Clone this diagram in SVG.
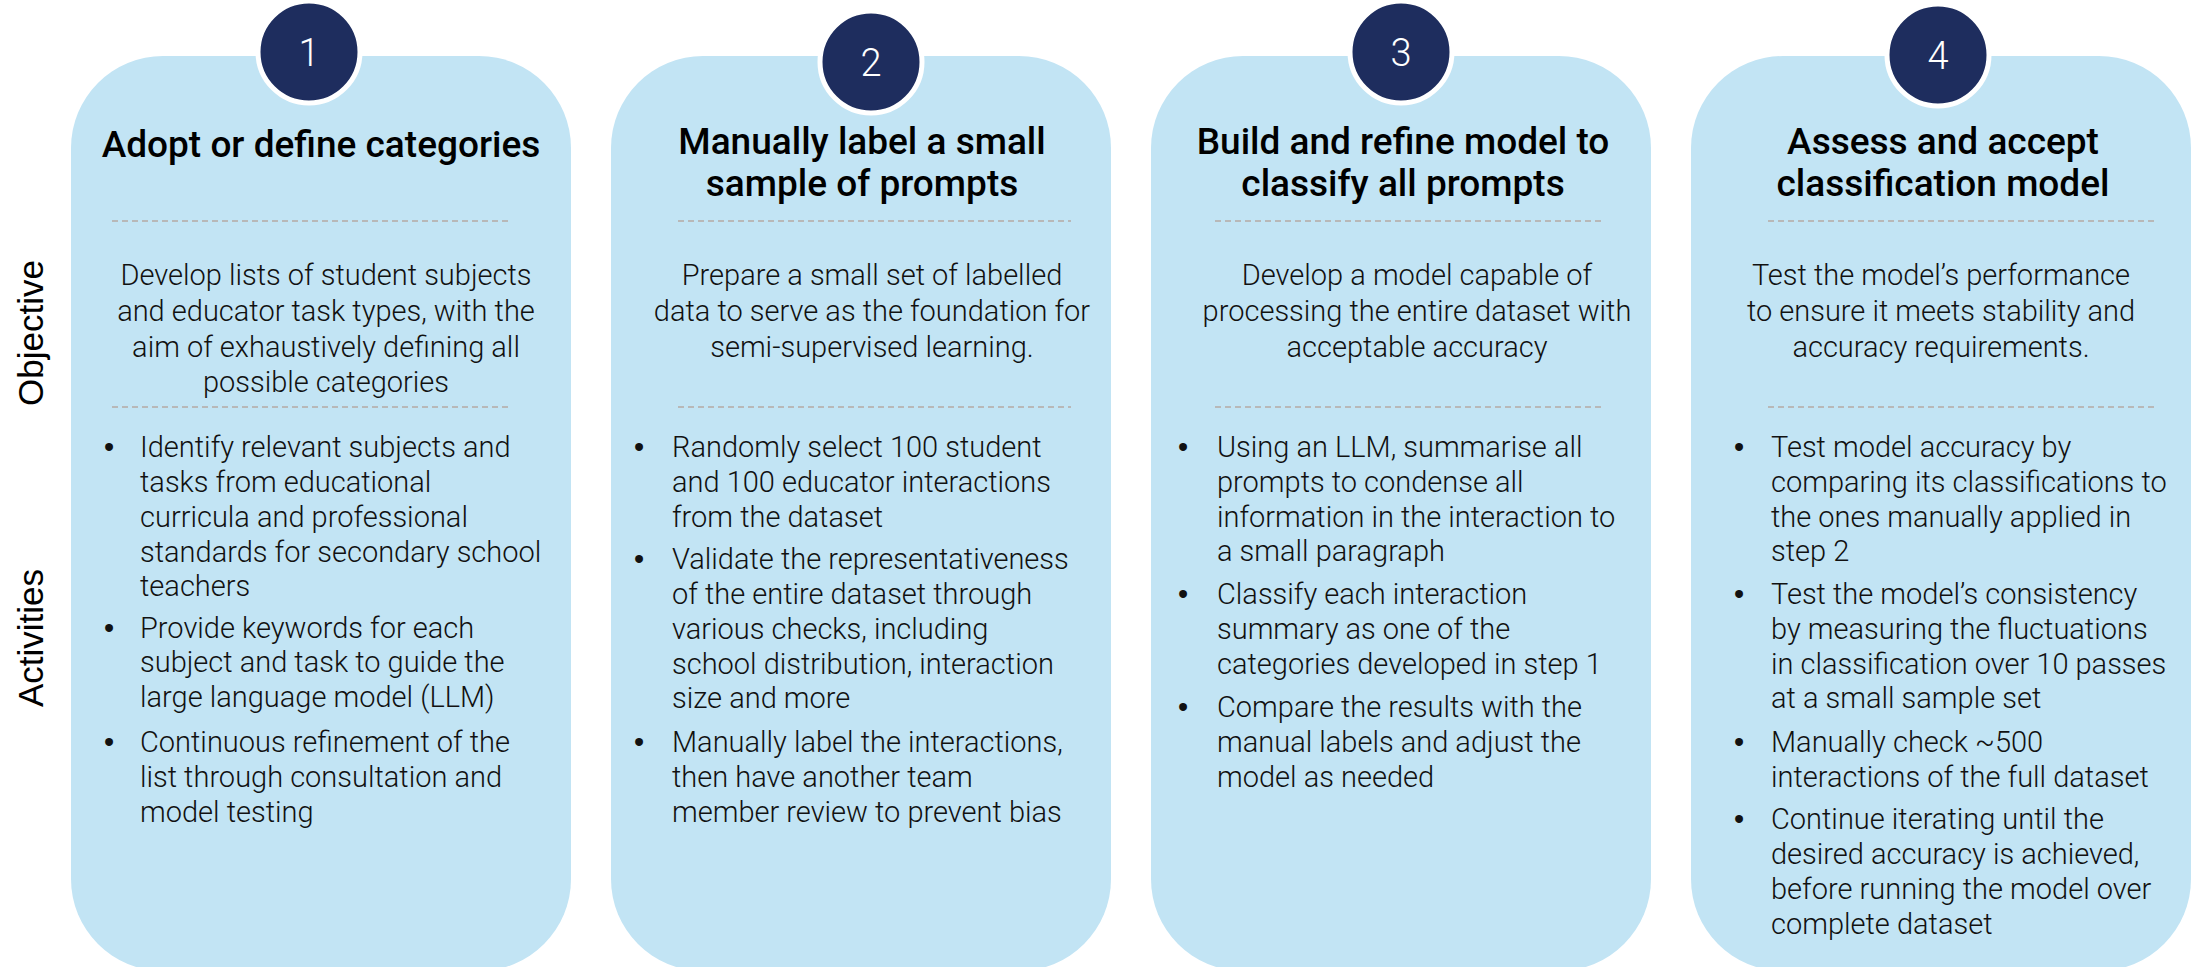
<svg xmlns="http://www.w3.org/2000/svg" width="2195" height="967" viewBox="0 0 2195 967">
<style>
.card{fill:#C2E4F4}
.badge{fill:#1E2D5E;stroke:#FFFFFF;stroke-width:5}
.num{font-family:Roboto,"Liberation Sans",sans-serif;font-weight:300;font-size:38px;fill:#FFFFFF;text-anchor:middle}
.title{font-family:Roboto,"Liberation Sans",sans-serif;font-weight:500;font-size:37px;fill:#000000;text-anchor:middle}
.obj{font-family:Roboto,"Liberation Sans",sans-serif;font-weight:300;font-size:29px;fill:#111111;text-anchor:middle}
.act{font-family:Roboto,"Liberation Sans",sans-serif;font-weight:300;font-size:29px;fill:#111111}
.bul{font-family:"Liberation Sans",Arial,sans-serif;font-size:29px;fill:#111111}
.sep{stroke:#B8B8B8;stroke-width:2;stroke-dasharray:6 4;fill:none}
.side{font-family:"Liberation Sans",Arial,sans-serif;font-size:35px;fill:#000000;text-anchor:middle}
</style>
<g id="labels">
<text class="side" transform="translate(43 333) rotate(-90)">Objective</text>
<text class="side" transform="translate(43 638) rotate(-90)">Activities</text>
</g>
<g id="step1">
<rect class="card" x="71" y="56" width="500" height="915" rx="92" ry="92"/>
<circle class="badge" cx="309" cy="52" r="51"/>
<text class="num" x="309" y="66">1</text>
<text class="title" x="321" y="157">Adopt or define categories</text>
<line class="sep" x1="112" y1="221" x2="510" y2="221"/>
<text class="obj"><tspan x="326" y="285">Develop lists of student subjects</tspan><tspan x="326" y="321">and educator task types, with the</tspan><tspan x="326" y="357">aim of exhaustively defining all</tspan><tspan x="326" y="392">possible categories</tspan></text>
<line class="sep" x1="112" y1="407" x2="510" y2="407"/>
<text class="bul"><tspan x="104" y="457">•</tspan><tspan x="104" y="638">•</tspan><tspan x="104" y="752">•</tspan></text>
<text class="act"><tspan x="140" y="457">Identify relevant subjects and</tspan><tspan x="140" y="492">tasks from educational</tspan><tspan x="140" y="527">curricula and professional</tspan><tspan x="140" y="562">standards for secondary school</tspan><tspan x="140" y="596">teachers</tspan><tspan x="140" y="638">Provide keywords for each</tspan><tspan x="140" y="672">subject and task to guide the</tspan><tspan x="140" y="707">large language model (LLM)</tspan><tspan x="140" y="752">Continuous refinement of the</tspan><tspan x="140" y="787">list through consultation and</tspan><tspan x="140" y="822">model testing</tspan></text>
</g>
<g id="step2">
<rect class="card" x="611" y="56" width="500" height="915" rx="92" ry="92"/>
<circle class="badge" cx="871" cy="62" r="51"/>
<text class="num" x="871" y="76">2</text>
<text class="title"><tspan x="862" y="154">Manually label a small</tspan><tspan x="862" y="196">sample of prompts</tspan></text>
<line class="sep" x1="678" y1="221" x2="1071" y2="221"/>
<text class="obj"><tspan x="872" y="285">Prepare a small set of labelled</tspan><tspan x="872" y="321">data to serve as the foundation for</tspan><tspan x="872" y="357">semi-supervised learning.</tspan></text>
<line class="sep" x1="678" y1="407" x2="1071" y2="407"/>
<text class="bul"><tspan x="634" y="457">•</tspan><tspan x="634" y="569">•</tspan><tspan x="634" y="752">•</tspan></text>
<text class="act"><tspan x="672" y="457">Randomly select 100 student</tspan><tspan x="672" y="492">and 100 educator interactions</tspan><tspan x="672" y="527">from the dataset</tspan><tspan x="672" y="569">Validate the representativeness</tspan><tspan x="672" y="604">of the entire dataset through</tspan><tspan x="672" y="639">various checks, including</tspan><tspan x="672" y="674">school distribution, interaction</tspan><tspan x="672" y="708">size and more</tspan><tspan x="672" y="752">Manually label the interactions,</tspan><tspan x="672" y="787">then have another team</tspan><tspan x="672" y="822">member review to prevent bias</tspan></text>
</g>
<g id="step3">
<rect class="card" x="1151" y="56" width="500" height="915" rx="92" ry="92"/>
<circle class="badge" cx="1401" cy="52" r="51"/>
<text class="num" x="1401" y="66">3</text>
<text class="title"><tspan x="1403" y="154">Build and refine model to</tspan><tspan x="1403" y="196">classify all prompts</tspan></text>
<line class="sep" x1="1215" y1="221" x2="1604" y2="221"/>
<text class="obj"><tspan x="1417" y="285">Develop a model capable of</tspan><tspan x="1417" y="321">processing the entire dataset with</tspan><tspan x="1417" y="357">acceptable accuracy</tspan></text>
<line class="sep" x1="1215" y1="407" x2="1604" y2="407"/>
<text class="bul"><tspan x="1178" y="457">•</tspan><tspan x="1178" y="604">•</tspan><tspan x="1178" y="717">•</tspan></text>
<text class="act"><tspan x="1217" y="457">Using an LLM, summarise all</tspan><tspan x="1217" y="492">prompts to condense all</tspan><tspan x="1217" y="527">information in the interaction to</tspan><tspan x="1217" y="561">a small paragraph</tspan><tspan x="1217" y="604">Classify each interaction</tspan><tspan x="1217" y="639">summary as one of the</tspan><tspan x="1217" y="674">categories developed in step 1</tspan><tspan x="1217" y="717">Compare the results with the</tspan><tspan x="1217" y="752">manual labels and adjust the</tspan><tspan x="1217" y="787">model as needed</tspan></text>
</g>
<g id="step4">
<rect class="card" x="1691" y="56" width="500" height="915" rx="92" ry="92"/>
<circle class="badge" cx="1938" cy="55" r="51"/>
<text class="num" x="1938" y="69">4</text>
<text class="title"><tspan x="1943" y="154">Assess and accept</tspan><tspan x="1943" y="196">classification model</tspan></text>
<line class="sep" x1="1768" y1="221" x2="2156" y2="221"/>
<text class="obj"><tspan x="1941" y="285">Test the model’s performance</tspan><tspan x="1941" y="321">to ensure it meets stability and</tspan><tspan x="1941" y="357">accuracy requirements.</tspan></text>
<line class="sep" x1="1768" y1="407" x2="2156" y2="407"/>
<text class="bul"><tspan x="1734" y="457">•</tspan><tspan x="1734" y="604">•</tspan><tspan x="1734" y="752">•</tspan><tspan x="1734" y="829">•</tspan></text>
<text class="act"><tspan x="1771" y="457">Test model accuracy by</tspan><tspan x="1771" y="492">comparing its classifications to</tspan><tspan x="1771" y="527">the ones manually applied in</tspan><tspan x="1771" y="561">step 2</tspan><tspan x="1771" y="604">Test the model’s consistency</tspan><tspan x="1771" y="639">by measuring the fluctuations</tspan><tspan x="1771" y="674">in classification over 10 passes</tspan><tspan x="1771" y="708">at a small sample set</tspan><tspan x="1771" y="752">Manually check ~500</tspan><tspan x="1771" y="787">interactions of the full dataset</tspan><tspan x="1771" y="829">Continue iterating until the</tspan><tspan x="1771" y="864">desired accuracy is achieved,</tspan><tspan x="1771" y="899">before running the model over</tspan><tspan x="1771" y="934">complete dataset</tspan></text>
</g>
</svg>
